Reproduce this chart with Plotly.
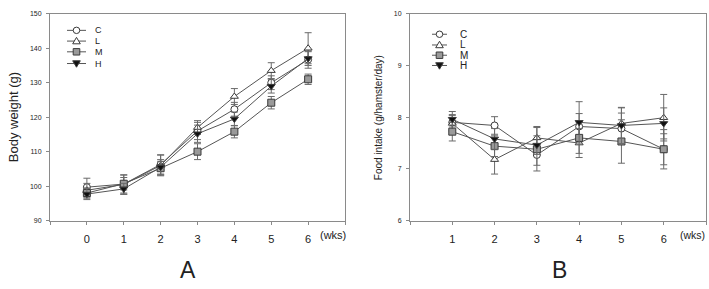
import plotly.graph_objects as go

W, H = 709, 289

# ---- data ----
groups = ["C", "L", "M", "H"]
weeks_a = [0, 1, 2, 3, 4, 5, 6]
bw_C = [99.7, 100.6, 106.3, 116.0, 122.3, 130.0, 136.7]
bw_L = [98.8, 100.5, 106.0, 117.0, 126.0, 133.5, 140.0]
bw_M = [98.0, 100.7, 105.2, 110.0, 115.8, 124.2, 131.0]
bw_H = [97.7, 99.2, 105.5, 115.2, 119.5, 129.0, 137.0]
bw_C_err = [2.6, 2.6, 2.8, 2.5, 2.0, 2.0, 2.5]
bw_L_err = [2.0, 2.8, 3.0, 2.0, 2.3, 2.3, 4.5]
bw_M_err = [1.5, 1.8, 2.0, 2.3, 1.8, 1.8, 1.5]
bw_H_err = [1.6, 1.6, 2.2, 2.5, 2.0, 2.0, 2.0]

weeks_b = [1, 2, 3, 4, 5, 6]
fi_C = [7.90, 7.84, 7.27, 7.82, 7.78, 7.38]
fi_L = [7.88, 7.18, 7.60, 7.50, 7.88, 7.99]
fi_M = [7.72, 7.44, 7.38, 7.60, 7.53, 7.38]
fi_H = [7.96, 7.58, 7.46, 7.90, 7.84, 7.88]
fi_C_err = [0.15, 0.17, 0.20, 0.25, 0.30, 0.30]
fi_L_err = [0.15, 0.28, 0.22, 0.28, 0.30, 0.45]
fi_M_err = [0.18, 0.20, 0.42, 0.30, 0.42, 0.38]
fi_H_err = [0.15, 0.20, 0.18, 0.40, 0.35, 0.30]

ticks_a = [-1, 0, 1, 2, 3, 4, 5, 6, 7]
ticklabels_a = ["", "0", "1", "2", "3", "4", "5", "6", ""]
ticks_b = [0, 1, 2, 3, 4, 5, 6, 7]
ticklabels_b = ["", "1", "2", "3", "4", "5", "6", ""]

# ---- styles ----
LINE = "#555555"
EDGE = "#3a3a3a"
TXT = "#222222"
styles = {
    "C": dict(symbol="circle", color="white", size=7),
    "L": dict(symbol="triangle-up", color="white", size=7),
    "M": dict(symbol="square", color="#9a9a9a", size=7),
    "H": dict(symbol="triangle-down", color="#111111", size=7),
}

def px(x):
    return x / W

def py(y):
    return 1 - y / H

fig = go.Figure()

series_a = {"C": (bw_C, bw_C_err), "L": (bw_L, bw_L_err), "M": (bw_M, bw_M_err), "H": (bw_H, bw_H_err)}
series_b = {"C": (fi_C, fi_C_err), "L": (fi_L, fi_L_err), "M": (fi_M, fi_M_err), "H": (fi_H, fi_H_err)}

for g in groups:
    ys, es = series_a[g]
    st = styles[g]
    fig.add_trace(go.Scatter(
        x=weeks_a, y=ys, mode="lines+markers", name=g, showlegend=False,
        line=dict(color=LINE, width=1),
        marker=dict(symbol=st["symbol"], color=st["color"], size=st["size"],
                    line=dict(color=EDGE, width=1)),
        error_y=dict(type="data", array=es, color="#6a6a6a", thickness=1, width=3.5),
        xaxis="x", yaxis="y"))
for g in groups:
    ys, es = series_b[g]
    st = styles[g]
    fig.add_trace(go.Scatter(
        x=weeks_b, y=ys, mode="lines+markers", name=g, showlegend=False,
        line=dict(color=LINE, width=1),
        marker=dict(symbol=st["symbol"], color=st["color"], size=st["size"],
                    line=dict(color=EDGE, width=1)),
        error_y=dict(type="data", array=es, color="#6a6a6a", thickness=1, width=3.5),
        xaxis="x2", yaxis="y2"))

ydom = [py(222), py(10)]
axis_common = dict(showline=True, mirror=True, linecolor="#8a8a8a", linewidth=1,
                   ticks="outside", ticklen=3, tickcolor="#8a8a8a",
                   showgrid=False, zeroline=False)

fig.update_layout(
    width=W, height=H, margin=dict(l=0, r=0, t=0, b=0),
    paper_bgcolor="white", plot_bgcolor="white",
    font=dict(family="Liberation Sans, Arial, sans-serif", color=TXT),
    xaxis=dict(domain=[px(50), px(345)], range=[-1, 7], tickvals=ticks_a,
               ticktext=ticklabels_a, tickfont=dict(size=11, color=TXT), anchor="y",
               ticklabelstandoff=5, **axis_common),
    yaxis=dict(domain=ydom, range=[90, 150], dtick=10, tickfont=dict(size=7, color=TXT),
               anchor="x", ticklabelstandoff=3, **axis_common),
    xaxis2=dict(domain=[px(410), px(706)], range=[0, 7], tickvals=ticks_b,
                ticktext=ticklabels_b, tickfont=dict(size=11, color=TXT), anchor="y2",
                ticklabelstandoff=5, **axis_common),
    yaxis2=dict(domain=ydom, range=[6, 10], dtick=1, tickfont=dict(size=7, color=TXT),
                anchor="x2", ticklabelstandoff=3, **axis_common),
)

ann = []
# axis titles
ann.append(dict(text="Body weight (g)", x=px(13), y=py(116), xref="paper", yref="paper",
                textangle=-90, showarrow=False, font=dict(size=13, color=TXT),
                xanchor="center", yanchor="middle"))
ann.append(dict(text="Food intake (g/hamster/day)", x=px(378), y=py(116), xref="paper", yref="paper",
                textangle=-90, showarrow=False, font=dict(size=10, color=TXT),
                xanchor="center", yanchor="middle"))
# (wks) labels
ann.append(dict(text="(wks)", x=px(333), y=py(237), xref="paper", yref="paper",
                showarrow=False, font=dict(size=11, color=TXT), xanchor="center", yanchor="middle"))
ann.append(dict(text="(wks)", x=px(692), y=py(237), xref="paper", yref="paper",
                showarrow=False, font=dict(size=10.5, color=TXT), xanchor="center", yanchor="middle",
                borderpad=0))
# panel letters
ann.append(dict(text="A", x=px(188), y=py(287), xref="paper", yref="paper",
                showarrow=False, font=dict(size=23, color=TXT), xanchor="center", yanchor="bottom",
                borderpad=0))
ann.append(dict(text="B", x=px(559), y=py(287), xref="paper", yref="paper",
                showarrow=False, font=dict(size=23, color=TXT), xanchor="center", yanchor="bottom",
                borderpad=0))

shapes = []

def legend(x0, x1, xt, rows, fsize):
    for g, yrow in zip(groups, rows):
        st = styles[g]
        cx = (x0 + x1) / 2
        shapes.append(dict(type="line", xref="paper", yref="paper",
                           x0=px(x0), x1=px(x1), y0=py(yrow), y1=py(yrow),
                           line=dict(color=LINE, width=1)))
        r = 3.3
        if st["symbol"] == "circle":
            shapes.append(dict(type="circle", xref="paper", yref="paper",
                               x0=px(cx - r), x1=px(cx + r), y0=py(yrow + r), y1=py(yrow - r),
                               fillcolor=st["color"], line=dict(color=EDGE, width=1)))
        elif st["symbol"] == "square":
            shapes.append(dict(type="rect", xref="paper", yref="paper",
                               x0=px(cx - r), x1=px(cx + r), y0=py(yrow + r), y1=py(yrow - r),
                               fillcolor=st["color"], line=dict(color=EDGE, width=1)))
        else:
            if st["symbol"] == "triangle-up":
                pts = [(cx, yrow - r - 0.5), (cx - r - 0.5, yrow + r - 0.5), (cx + r + 0.5, yrow + r - 0.5)]
            else:
                pts = [(cx, yrow + r + 0.5), (cx - r - 0.5, yrow - r + 0.5), (cx + r + 0.5, yrow - r + 0.5)]
            path = "M {} {} L {} {} L {} {} Z".format(*[v for p in pts for v in (px(p[0]), py(p[1]))])
            shapes.append(dict(type="path", xref="paper", yref="paper", path=path,
                               fillcolor=st["color"], line=dict(color=EDGE, width=1)))
        ann.append(dict(text=g, x=px(xt), y=py(yrow), xref="paper", yref="paper",
                        showarrow=False, font=dict(size=fsize, color=TXT),
                        xanchor="left", yanchor="middle"))

legend(67, 86, 93, [27, 38, 49, 61], 9)
legend(432, 447, 458, [31, 42, 52.5, 63], 10)

fig.update_layout(annotations=ann, shapes=shapes)

fig.write_html("out.html", config={"displayModeBar": False},
               post_script="document.body.style.margin='0';")
